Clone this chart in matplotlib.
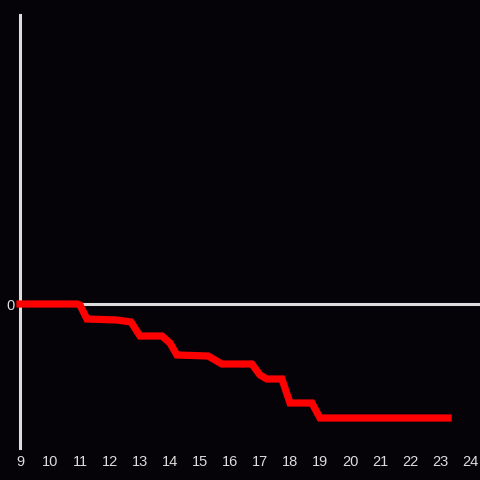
import matplotlib
matplotlib.use("Agg")
import matplotlib.pyplot as plt

# step-like series (y in arbitrary units, only 0 is labelled)
hours = [9.0, 10.9, 11.0, 11.23, 12.23, 12.7, 13.0, 13.73, 14.0, 14.23,
         15.27, 15.73, 16.73, 17.0, 17.23, 17.73, 18.0, 18.73, 19.0, 23.27]
values = [0.0, 0.0, -0.1, -1.5, -1.6, -1.8, -3.2, -3.2, -3.9, -5.1,
          -5.2, -6.0, -6.0, -7.1, -7.5, -7.5, -9.9, -9.9, -11.4, -11.4]
x_ticks = list(range(9, 25))
y_ticks = [0]

bg = "#050308"
fg = "#dddddd"

plt.rcParams["font.family"] = ["Liberation Sans", "DejaVu Sans"]

fig = plt.figure(figsize=(4.8, 4.8), dpi=100, facecolor=bg)
ax = fig.add_axes([20 / 480, 1 - 448 / 480, 460 / 480, 433 / 480])
ax.set_facecolor(bg)

ax.axhline(0, color=fg, lw=2.2, zorder=2)
ax.plot(hours, values, color="#ff0000", lw=5.2, solid_joinstyle="miter",
        zorder=3, clip_on=False)

ax.set_xlim(9, 9 + 460 / 30)
ax.set_ylim(-14.4, 28.9)
ax.set_xticks(x_ticks)
ax.set_yticks(y_ticks)

for side in ["top", "right", "bottom"]:
    ax.spines[side].set_visible(False)
ax.spines["left"].set_color(fg)
ax.spines["left"].set_linewidth(2.2)

ax.tick_params(axis="both", length=0, colors=fg, labelsize=10.5)
ax.tick_params(axis="x", pad=5)
ax.tick_params(axis="y", pad=4)

fig.savefig("out.png", dpi=100, facecolor=bg)
